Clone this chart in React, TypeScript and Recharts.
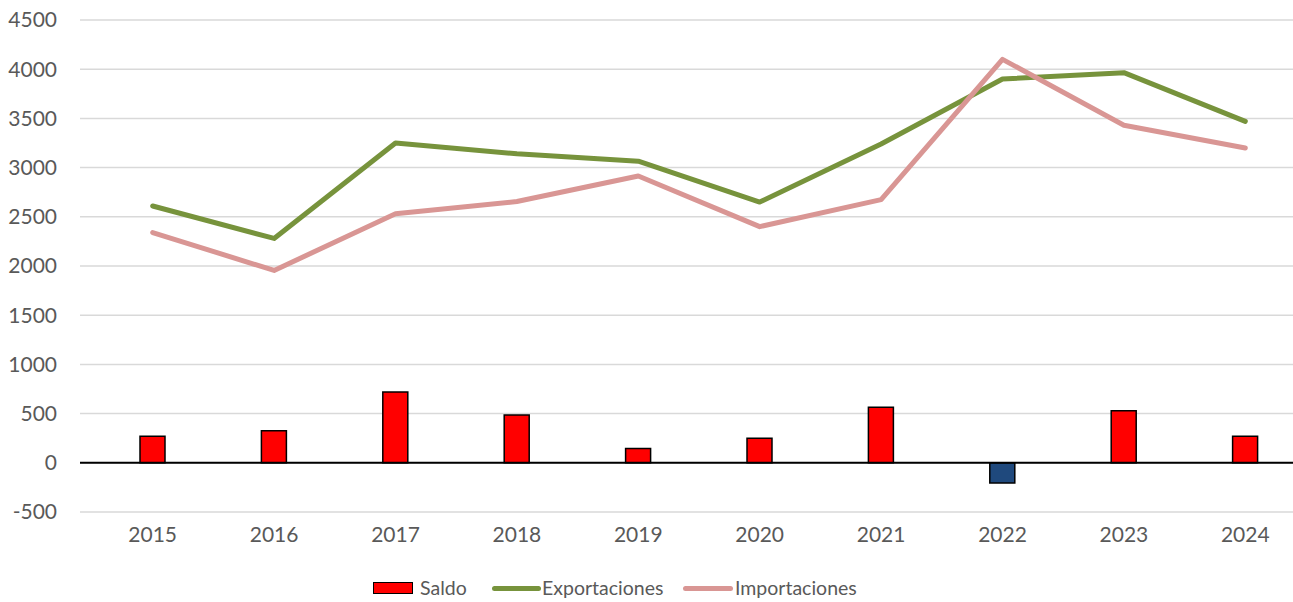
import React from "react";
import {
  ComposedChart,
  Bar,
  Line,
  XAxis,
  YAxis,
  CartesianGrid,
  ReferenceLine,
  Cell,
} from "recharts";

const years = ["2015", "2016", "2017", "2018", "2019", "2020", "2021", "2022", "2023", "2024"];
const saldo = [270, 325, 720, 485, 145, 250, 565, -205, 530, 270];
const exportaciones = [2610, 2280, 3250, 3140, 3065, 2650, 3240, 3900, 3965, 3470];
const importaciones = [2340, 1955, 2530, 2655, 2915, 2400, 2675, 4100, 3430, 3200];
const yTicks = [-500, 0, 500, 1000, 1500, 2000, 2500, 3000, 3500, 4000, 4500];

const data = years.map((y, i) => ({
  year: y,
  saldo: saldo[i],
  exportaciones: exportaciones[i],
  importaciones: importaciones[i],
}));

const FONT = "Lato, 'Open Sans', sans-serif";
const TXT = "#595959";
const GREEN = "#77933C";
const PINK = "#D99694";
const RED = "#FF0000";
const NAVY = "#1F497D";

const legendText: React.CSSProperties = {
  position: "absolute",
  top: 0,
  fontSize: 19.5,
  color: TXT,
  fontFamily: FONT,
  lineHeight: "24px",
  whiteSpace: "nowrap",
};

export default function App() {
  return (
    <div
      style={{
        position: "absolute",
        left: 0,
        top: 0,
        width: 1293,
        height: 602,
        overflow: "hidden",
        background: "#fff",
        fontFamily: FONT,
      }}
    >
      <ComposedChart
        width={1306}
        height={602}
        data={data}
        margin={{ top: 20, right: 0, bottom: 60, left: 0 }}
        barCategoryGap={0}
      >
        <CartesianGrid vertical={false} stroke="#D9D9D9" strokeWidth={1.5} />
        <XAxis
          dataKey="year"
          height={30}
          axisLine={false}
          tickLine={false}
          tickSize={0}
          tickMargin={15}
          padding={{ left: 12, right: 0 }}
          tick={{ fill: TXT, fontSize: 21, fontFamily: FONT }}
          interval={0}
        />
        <YAxis
          width={80}
          domain={[-500, 4500]}
          ticks={yTicks}
          axisLine={false}
          tickLine={false}
          tickSize={0}
          tickMargin={23}
          tick={{ fill: TXT, fontSize: 21, fontFamily: FONT }}
          interval={0}
        />
        <ReferenceLine y={0} stroke="#000" strokeWidth={2} />
        <Bar dataKey="saldo" barSize={25} stroke="#000" strokeWidth={1.5} isAnimationActive={false}>
          {data.map((d, i) => (
            <Cell key={i} fill={d.saldo < 0 ? NAVY : RED} />
          ))}
        </Bar>
        <Line
          type="linear"
          dataKey="exportaciones"
          stroke={GREEN}
          strokeWidth={5}
          dot={false}
          activeDot={false}
          strokeLinejoin="round"
          strokeLinecap="round"
          isAnimationActive={false}
        />
        <Line
          type="linear"
          dataKey="importaciones"
          stroke={PINK}
          strokeWidth={5}
          dot={false}
          activeDot={false}
          strokeLinejoin="round"
          strokeLinecap="round"
          isAnimationActive={false}
        />
      </ComposedChart>
      <div style={{ position: "absolute", top: 576, left: 0, width: 1293, height: 24 }}>
        <span style={{ position: "absolute", left: 373, top: 6, width: 40, height: 12, background: RED, border: "1.5px solid #000", boxSizing: "border-box" }} />
        <span style={{ ...legendText, left: 420 }}>Saldo</span>
        <span style={{ position: "absolute", left: 492, top: 10, width: 49, height: 5, background: GREEN, borderRadius: 3 }} />
        <span style={{ ...legendText, left: 542 }}>Exportaciones</span>
        <span style={{ position: "absolute", left: 683, top: 10, width: 50, height: 5, background: PINK, borderRadius: 3 }} />
        <span style={{ ...legendText, left: 735 }}>Importaciones</span>
      </div>
    </div>
  );
}
